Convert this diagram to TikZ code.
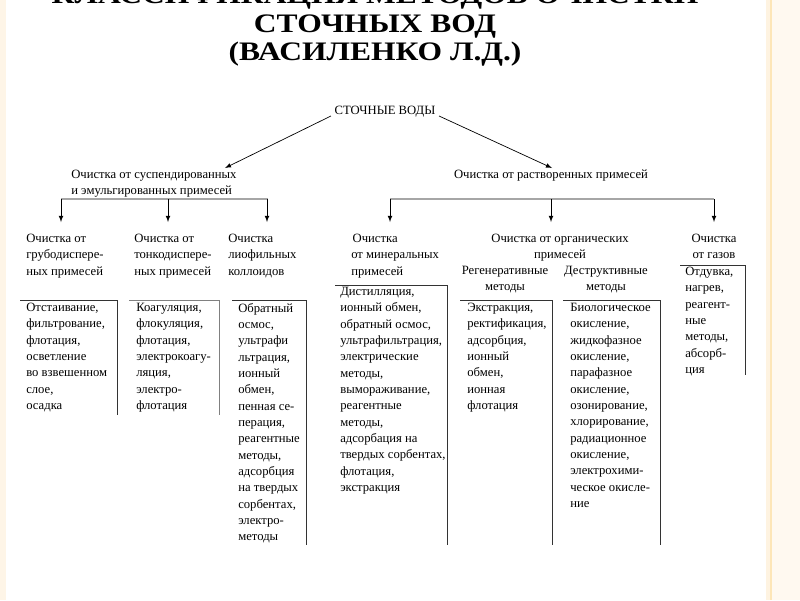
\documentclass[tikz,border=0pt]{standalone}
\usepackage{fontspec}
\setmainfont{Liberation Serif}
\begin{document}
\begin{tikzpicture}[x=0.025cm,y=-0.025cm,
  txt/.style={inner sep=0pt,anchor=north west,align=left,font=\fontsize{9}{11.6}\selectfont},
  ctxt/.style={inner sep=0pt,anchor=north,align=center,font=\fontsize{9}{11.6}\selectfont},
  bar/.style={draw=gray!70,line width=2pt},
  ln/.style={draw=black!80,line width=0.6pt},
  arr/.style={-latex,line width=0.5pt}]
\useasboundingbox (0,0) rectangle (800,600);
\clip (0,0) rectangle (800,600);
\fill[white] (0,0) rectangle (800,600);
\fill[yellow!10!orange!8] (0,0) rectangle (6,600);
\fill[yellow!12!orange!10] (766,0) rectangle (800,600);
\fill[yellow!8!orange!5] (772,0) rectangle (800,600);
\draw[yellow!30!orange!25,line width=1pt] (771,0) -- (771,600);
% title
\node[font=\fontsize{19}{20}\selectfont\bfseries,align=center,anchor=north,inner sep=0pt,xscale=1.18] (title) at (375,-14)
 {КЛАССИФИКАЦИЯ МЕТОДОВ ОЧИСТКИ\\ СТОЧНЫХ ВОД\\ (ВАСИЛЕНКО Л.Д.)};
% root
\node[inner sep=1pt,font=\fontsize{9}{11}\selectfont] (root) at (385,112) {СТОЧНЫЕ ВОДЫ};
\node[txt] (susp) at (71,170) {Очистка от суспендированных\\и эмульгированных примесей};
\node[ctxt] (rast) at (551,170) {Очистка от растворенных примесей};
\coordinate (la) at (225,168);
\coordinate (ra) at (552,168);
\draw[arr] (root.west) ++(-2,4) -- (la);
\draw[arr] (root.east) ++(2,4) -- (ra);
% bars
\coordinate (b1) at (61,199); \coordinate (b2) at (268,199);
\coordinate (b3) at (390,199); \coordinate (b4) at (714,199);
\draw[bar] (b1) -- (b2);
\draw[bar] (b3) -- (b4);
\foreach \x/\n in {61/a1,168/a2,267/a3,390/a4,551/a5,714/a6}{
  \coordinate (\n s) at (\x,199); \coordinate (\n e) at (\x,222);
  \draw[arr] (\n s) -- (\n e);}
% headers
\node[txt] (h1) at (26,234) {Очистка от\\грубодиспере-\\ных примесей};
\node[txt] (h2) at (134,234) {Очистка от\\тонкодиспере-\\ных примесей};
\node[txt] (h3) at (228,234) {Очистка\\лиофильных\\коллоидов};
\node[txt] (h4) at (351,234) {\hspace*{1pt}Очистка\\от минеральных\\примесей};
\node[ctxt] (h5) at (560,234) {Очистка от органических\\примесей};
\node[ctxt] (h5a) at (505,266) {Регенеративные\\методы};
\node[ctxt] (h5b) at (606,266) {Деструктивные\\методы};
\node[ctxt] (h6) at (714,234) {Очистка\\от газов};
% boxes
\draw[ln] (20,300) -- (117,300) -- (117,415);
\draw[ln,draw=gray] (129,300) -- (219,300) -- (219,415);
\draw[ln] (232,300) -- (306,300) -- (306,545);
\draw[ln] (335,285) -- (447,285) -- (447,545);
\draw[ln] (460,300) -- (552,300) -- (552,545);
\draw[ln] (563,300) -- (660,300) -- (660,545);
\draw[ln] (680,265) -- (745,265) -- (745,375);
% box texts
\node[txt] (t1) at (26,303) {Отстаивание,\\фильтрование,\\флотация,\\осветление\\во взвешенном\\слое,\\осадка};
\node[txt] (t2) at (136,303) {Коагуляция,\\флокуляция,\\флотация,\\электрокоагу-\\ляция,\\электро-\\флотация};
\node[txt] (t3) at (238,303) {Обратный\\осмос,\\ультрафи\\льтрация,\\ионный\\обмен,\\пенная се-\\перация,\\реагентные\\методы,\\адсорбция\\на твердых\\сорбентах,\\электро-\\методы};
\node[txt] (t4) at (340,287) {Дистилляция,\\ионный обмен,\\обратный осмос,\\ультрафильтрация,\\электрические\\методы,\\вымораживание,\\реагентные\\методы,\\адсорбация на\\твердых сорбентах,\\флотация,\\экстракция};
\node[txt] (t5) at (467,303) {Экстракция,\\ректификация,\\адсорбция,\\ионный\\обмен,\\ионная\\флотация};
\node[txt] (t6) at (570,303) {Биологическое\\окисление,\\жидкофазное\\окисление,\\парафазное\\окисление,\\озонирование,\\хлорирование,\\радиационное\\окисление,\\электрохими-\\ческое окисле-\\ние};
\node[txt] (t7) at (685,267) {Отдувка,\\нагрев,\\реагент-\\ные\\методы,\\абсорб-\\ция};
\end{tikzpicture}
\end{document}
